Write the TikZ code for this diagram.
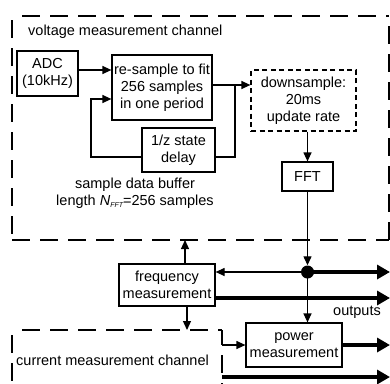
\documentclass[tikz,border=0pt]{standalone}
\usepackage{fontspec}
\setmainfont{Liberation Sans}
\usetikzlibrary{arrows.meta}
\begin{document}
\begin{tikzpicture}[x=1pt,y=-1pt,
  txt/.style={font=\fontsize{14.5}{16.8}\selectfont, align=center, inner sep=0pt},
  blk/.style={txt, draw, line width=1.2pt},
  dblk/.style={blk, dash pattern=on 5pt off 3.5pt},
  frame/.style={line width=2.2pt, dash pattern=on 18pt off 10pt},
  line/.style={line width=1.2pt},
  arr/.style={line width=1.2pt, -{Triangle[length=9pt,width=8pt]}},
  bigarr/.style={line width=4.5pt, -{Triangle[length=13pt,width=14pt]}}
]
\useasboundingbox (0,0) rectangle (390,383);
\clip (0,0) rectangle (390,383);

% voltage channel frame
\coordinate (v1) at (12,16);
\coordinate (v2) at (389,16);
\coordinate (v3) at (389,240);
\coordinate (v4) at (12,240);
\draw[frame, dash phase=18pt] (v1) -- (v2);
\draw[frame, dash phase=24pt] (v1) -- (v4);
\draw[frame, dash phase=18pt] (v2) -- (v3);
\draw[frame] (v4) -- (v3);

% current channel frame
\coordinate (c1) at (12,330);
\coordinate (c2) at (222,330);
\coordinate (c3) at (222,400);
\coordinate (c4) at (12,400);
\draw[frame, dash phase=18pt] (c1) -- (c2);
\draw[frame, dash phase=3pt] (c2) -- (c3);
\draw[frame, dash phase=23pt] (c1) -- (c4);

% blocks
\node[blk, minimum width=61pt, minimum height=45pt] (adc) at (47.5,73.5) {ADC\\(10kHz)};
\node[blk, minimum width=100pt, minimum height=65pt] (rs) at (162,87.5) {re-sample to fit\\256 samples\\in one period};
\node[blk, minimum width=73pt, minimum height=44pt] (dly) at (178.5,150) {1/z state\\delay};
\node[dblk, minimum width=105pt, minimum height=61pt] (ds) at (303.5,100.5) {downsample:\\20ms\\update rate};
\node[blk, minimum width=51pt, minimum height=29pt] (fft) at (307.5,176.5) {FFT};
\node[blk, minimum width=96pt, minimum height=42pt] (freq) at (167,285) {frequency\\measurement};
\node[blk, minimum width=96pt, minimum height=44pt] (pow) at (294,345) {power\\measurement};
\node[circle, fill, minimum size=13pt, inner sep=0pt] (dot) at (307.5,272) {};

% labels
\node[txt, anchor=west] (vlab) at (28,32) {voltage measurement channel};
\node[txt] (buf) at (135,193) {sample data buffer\\length {\itshape N}\raisebox{-2.5pt}{\fontsize{7}{7}\selectfont\itshape FFT}=256 samples};
\node[txt] (outl) at (357,312) {outputs};
\node[txt, anchor=west] (clab) at (16,360) {current measurement channel};

% helper points
\coordinate (o1) at (390,272);
\coordinate (o2) at (390,298);
\coordinate (o3) at (390,345);
\coordinate (o4) at (390,377);
\coordinate (cin) at (222,377);
\coordinate (rsout) at ([yshift=2.5pt]rs.east);
\coordinate (br) at (235,85);
\coordinate (dlyin) at ([yshift=-7pt]dly.east);
\coordinate (dlyout) at ([yshift=-7pt]dly.west);
\coordinate (fbc) at (91,157);
\coordinate (rsfb) at ([yshift=-11.5pt]rs.west);
\coordinate (fo) at ([yshift=-13pt]freq.east);
\coordinate (fu) at ([xshift=18pt]freq.north);
\coordinate (fd) at ([xshift=20pt]freq.south);

% connectors
\draw[arr] ([yshift=3.5pt]adc.east) -- ([yshift=3.5pt]adc.east -| rs.west);
\draw[arr] (rsout) -- (rsout -| ds.west);
\draw[line] (br) |- (dlyin);
\draw[arr] (dlyout) -- (fbc) |- (rsfb);
\draw[arr] (fft.north |- ds.south) -- (fft.north);
\draw[arr] (fft.south) -- (dot.north);
\draw[arr] (dot.center) -- (dot.center -| freq.east);
\draw[arr] (dot.center) -- (dot.center |- pow.north);
\draw[bigarr] (dot.center) -- (o1);
\draw[bigarr] (fo) -- (o2);
\draw[arr] (fu) -- (fu |- v4);
\draw[arr] (fd) -- (fd |- c1);
\draw[arr] (c2 |- pow.west) -- (pow.west);
\draw[bigarr] (pow.east) -- (o3);
\draw[bigarr] (cin) -- (o4);
\end{tikzpicture}
\end{document}
